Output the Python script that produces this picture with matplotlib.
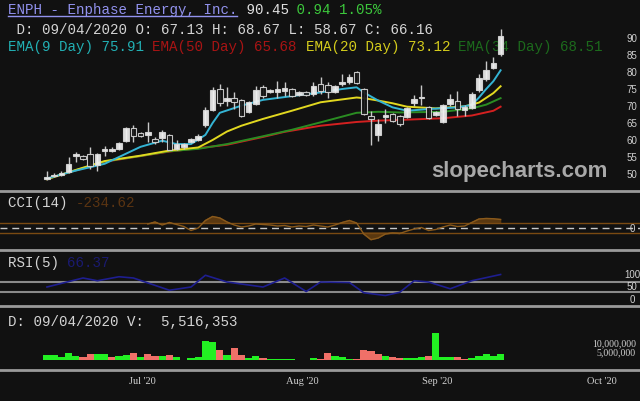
import matplotlib.pyplot as plt
from matplotlib.patches import Rectangle
from matplotlib.lines import Line2D
from matplotlib.transforms import blended_transform_factory
import numpy as np

# ---- values (one entry per trading day) ----
opens = [48.6, 49.3, 49.7, 50.7, 55.4, 55.2, 55.9, 52.6, 56.9, 56.8,
         57.5, 59.8, 63.4, 62.0, 61.5, 60.3, 60.6, 61.5, 57.5, 57.8,
         59.3, 60.1, 64.4, 68.9, 75.0, 71.6, 72.3, 71.9, 68.3, 70.6,
         75.5, 74.0, 74.0, 74.5, 75.0, 73.2, 74.0, 73.5, 76.5, 76.2,
         74.0, 76.5, 77.2, 79.9, 75.0, 67.13, 61.5, 66.7, 67.7, 67.2,
         66.7, 70.9, 72.3, 69.6, 67.4, 65.2, 70.6, 71.6, 68.9, 69.3,
         74.8, 78.0, 81.1, 85.3]
closes = [49.2, 49.8, 50.3, 52.9, 55.9, 54.4, 52.5, 55.9, 57.5, 57.4,
          59.1, 63.4, 61.3, 61.3, 62.5, 59.3, 62.4, 57.2, 58.8, 58.8,
          60.3, 61.1, 68.9, 74.8, 71.0, 72.5, 71.1, 67.2, 71.1, 74.8,
          73.0, 74.8, 75.0, 75.2, 73.0, 74.0, 73.2, 75.8, 74.5, 74.0,
          76.0, 77.2, 78.4, 76.8, 67.6, 66.16, 64.7, 67.3, 65.7, 64.7,
          69.3, 72.1, 72.5, 66.5, 68.1, 70.3, 72.1, 69.1, 69.6, 73.5,
          78.2, 80.7, 82.6, 90.45]
highs = [50.9, 50.2, 50.8, 54.9, 56.4, 55.6, 57.8, 56.2, 58.3, 57.8,
         59.4, 63.8, 64.4, 62.3, 65.2, 60.8, 62.8, 61.8, 60.0, 59.2,
         60.6, 61.8, 69.6, 75.5, 76.5, 75.5, 74.0, 72.2, 71.4, 76.0,
         76.2, 75.1, 77.4, 77.0, 75.3, 74.3, 74.3, 77.0, 78.4, 77.0,
         76.3, 79.4, 79.4, 80.2, 75.3, 68.67, 66.2, 69.0, 68.0, 67.5,
         69.6, 73.1, 76.2, 69.9, 68.4, 70.6, 73.5, 74.5, 70.3, 74.0,
         79.4, 83.1, 84.5, 92.6]
lows = [48.1, 49.0, 49.4, 50.4, 53.5, 54.0, 51.5, 51.0, 55.4, 56.5,
        57.2, 59.5, 59.3, 61.0, 59.3, 58.9, 59.5, 57.0, 57.2, 57.5,
        59.0, 59.8, 63.7, 68.5, 70.1, 70.1, 69.1, 66.9, 68.0, 70.3,
        72.5, 73.7, 72.5, 73.0, 72.7, 73.0, 72.9, 72.8, 73.5, 72.3,
        73.7, 76.0, 76.5, 76.5, 67.3, 58.67, 59.8, 65.0, 65.4, 64.0,
        66.4, 69.9, 70.3, 66.2, 67.1, 65.0, 69.9, 67.1, 67.2, 69.0,
        74.0, 77.5, 80.9, 84.8]

# volume in millions, and whether the bar is green (1) or red (0)
volumes = [3.2, 3.0, 2.0, 4.0, 2.4, 1.6, 3.6, 3.6, 3.6, 2.0,
           2.4, 3.0, 4.0, 2.0, 3.6, 2.6, 2.6, 3.0, 2.0, 0.2,
           1.0, 2.0, 11.0, 10.4, 6.0, 3.0, 7.0, 3.0, 1.4, 2.4,
           1.0, 0.6, 0.6, 0.4, 0.4, 0.2, 0.1, 1.0, 0.4, 4.0,
           2.4, 1.6, 0.8, 0.6, 6.0, 5.5, 3.6, 2.4, 1.6, 1.0,
           1.0, 1.0, 1.6, 2.4, 16.0, 2.0, 2.0, 1.6, 0.4, 1.2,
           2.4, 3.6, 2.6, 3.4]
vol_up = [1, 1, 1, 1, 1, 0, 0, 1, 1, 0,
          1, 1, 0, 1, 0, 0, 1, 0, 1, 1,
          1, 1, 1, 1, 0, 1, 0, 0, 1, 1,
          0, 1, 1, 1, 1, 1, 1, 1, 0, 0,
          1, 1, 1, 0, 0, 0, 0, 1, 0, 0,
          1, 1, 1, 0, 1, 1, 1, 0, 0, 1,
          1, 1, 1, 1]

# moving averages sampled along the lines
ema9_x = [0, 4, 8, 11, 13, 16, 18, 20, 22, 23, 24, 27, 30, 34, 38, 41, 43, 44,
          46, 48, 50, 53, 57, 59, 60, 61, 62, 63]
ema9 = [48.7, 51.0, 53.0, 56.0, 58.0, 59.8, 58.8, 58.8, 61.5, 65.0, 68.0, 70.1,
        71.8, 72.9, 74.0, 75.0, 75.5, 74.0, 71.6, 69.6, 68.6, 69.1, 69.6, 70.3,
        72.5, 75.0, 77.3, 80.5]
ema20_x = [0, 4, 8, 13, 17, 21, 23, 25, 27, 30, 34, 38, 43, 44, 46, 48, 50, 54,
           58, 60, 62, 63]
ema20 = [48.5, 51.2, 53.8, 55.4, 56.9, 57.8, 60.0, 62.5, 64.2, 66.2, 68.6, 71.1,
         72.5, 72.3, 71.6, 70.8, 69.8, 69.3, 69.9, 71.0, 73.8, 75.8]
ema34_x = [0, 4, 8, 13, 17, 21, 25, 30, 34, 38, 43, 46, 49, 55, 59, 61, 63]
ema34 = [48.5, 51.1, 53.7, 55.3, 56.7, 57.4, 58.8, 61.1, 63.0, 65.2, 68.0, 68.3,
         68.1, 68.3, 69.3, 70.4, 72.3]
ema50_x = [0, 8, 17, 25, 30, 33, 38, 43, 46, 49, 55, 59, 62, 63]
ema50 = [48.5, 53.6, 56.6, 58.6, 60.9, 62.4, 64.2, 65.3, 65.7, 65.9, 66.4, 67.2,
         68.6, 69.8]

cci_x = list(range(14, 64))
cci = [80, 120, 60, 110, 70, 30, -50, 0, 150, 230, 200, 120, 60, 20, 40, 80,
       70, 60, 40, 50, 20, 40, 30, 60, 40, 20, 60, 110, 150, 100, -120, -234,
       -200, -120, -100, -110, -60, -20, 10, -50, -30, 20, 60, 30, 40, 110, 180,
       190, 185, 170]

rsi_x = [0, 5, 7, 10, 12, 17, 20, 22, 25, 30, 33, 36, 38, 42, 44, 47, 49, 51,
         53, 56, 59, 63]
rsi = [48, 84, 73, 89, 84, 35, 48, 95, 68, 48, 84, 30, 68, 66, 25, 14, 27, 73,
       68, 41, 73, 98]

price_ticks = [50, 55, 60, 65, 70, 75, 80, 85, 90]
vol_ticks = [5, 10]
vol_tick_labels = ['5,000,000', '10,000,000']
month_labels = ["Jul '20", "Aug '20", "Sep '20", "Oct '20"]
month_pos = [13.3, 35.4, 54.2, 77.1]

# ---- layout (pixels of the 640x402 picture) ----
W, H = 640, 402
BG = '#111111'
x0, step = 47, 7.2          # pixel of first candle, pixels per candle
xlim = (-x0 / step, (W - x0) / step)
CW = 8.5                    # width of one monospace character in pixels

fig = plt.figure(figsize=(W / 100, H / 100), dpi=100, facecolor=BG)


def px_axes(top, bottom):
    ax = fig.add_axes([0, 1 - bottom / H, 1, (bottom - top) / H])
    ax.set_facecolor('none')
    ax.set_xlim(*xlim)
    ax.axis('off')
    return ax


def ftext(ax, x, y, s, color, size=10.2, family='Liberation Mono', **kw):
    ax.text(x / W, 1 - y / H, s, color=color, fontsize=size, family=family,
            transform=fig.transFigure, va='center', ha=kw.pop('ha', 'left'),
            **kw)


def segments(ax, x, y, parts):
    for s, c in parts:
        ftext(ax, x, y, s, c, zorder=1)
        x += len(s) * CW


def right_labels(ax, ticks, labels, size=7, family='Liberation Sans',
                 x=632, ha='center'):
    trans = blended_transform_factory(fig.transFigure, ax.transData)
    for v, lab in zip(ticks, labels):
        ax.text(x / W, v, lab, color='#d0d0d0', fontsize=size, ha=ha,
                va='center', family=family, transform=trans)


# main price panel
ax = px_axes(0, 191)
ax.set_ylim(90 - (191 - 39) / 3.4, 90 + 39 / 3.4)

segments(ax, 8, 10, [('ENPH - Enphase Energy, Inc.', '#9292ee'),
                     (' 90.45', '#e0e0e0'), (' 0.94 1.05%', '#3cc83c')])
fig.add_artist(Line2D([8 / W, 237 / W], [1 - 17 / H, 1 - 17 / H],
                      color='#9292ee', lw=1))
segments(ax, 8, 30, [(' D: 09/04/2020 O: 67.13 H: 68.67 L: 58.67 C: 66.16',
                      '#d4d4d4')])
segments(ax, 8, 47, [('EMA(9 Day) 75.91 ', '#22b0b4'),
                     ('EMA(50 Day) 65.68 ', '#a81414'),
                     ('EMA(20 Day) 73.12 ', '#d4cc1c'),
                     ('EMA(34 Day) 68.51', '#1c6a1c')])

ax.plot(ema50_x, ema50, color='#d42020', lw=1.4, zorder=2)
ax.plot(ema34_x, ema34, color='#2a8c22', lw=1.4, zorder=2)
ax.plot(ema20_x, ema20, color='#e2d820', lw=1.4, zorder=2)
ax.plot(ema9_x, ema9, color='#34b4d4', lw=1.4, zorder=2)

for i in range(len(opens)):
    o, c = opens[i], closes[i]
    ax.vlines(i, lows[i], highs[i], color='#c8c8c8', lw=1, zorder=3)
    lo, hi = min(o, c), max(o, c)
    hi = max(hi, lo + 0.3)
    face = '#f2f2f2' if c >= o else '#111111'
    ax.add_patch(Rectangle((i - 0.4, lo), 0.8, hi - lo, facecolor=face,
                           edgecolor='#d8d8d8', lw=0.8, alpha=0.9, zorder=4))

right_labels(ax, price_ticks, [str(p) for p in price_ticks])

ax.text(519 / W, 1 - 172 / H, 'slopecharts.com', transform=fig.transFigure,
        color='#a8a8a8', fontsize=16, fontweight='bold', ha='center',
        va='center', family='Liberation Sans', zorder=5)

# CCI panel
ax_cci = px_axes(193, 250)
ax_cci.set_ylim(-(250 - 229) / 0.05, (229 - 193) / 0.05)
ax_cci.axhline(100, color='#7a4a12', lw=1)
ax_cci.axhline(-100, color='#7a4a12', lw=1)
ax_cci.axhline(0, color='#c8c8c8', lw=1, ls=(0, (5, 3.5)))
cci_a = np.array(cci)
ax_cci.fill_between(cci_x, 100, cci_a, where=cci_a > 100, color='#5a3810',
                    interpolate=True)
ax_cci.fill_between(cci_x, -100, cci_a, where=cci_a < -100, color='#5a3810',
                    interpolate=True)
ax_cci.plot(cci_x, cci, color='#8a5a1c', lw=1)
segments(ax_cci, 8, 203, [('CCI(14) ', '#d4d4d4'), ('-234.62', '#5a3412')])
right_labels(ax_cci, [0], ['0'])

# RSI panel
ax_rsi = px_axes(252, 306)
ax_rsi.set_ylim(-(306 - 300) / 0.25, 100 + (275 - 252) / 0.25)
ax_rsi.axhline(70, color='#8a8a8a', lw=1.5)
ax_rsi.axhline(30, color='#8a8a8a', lw=1.5)
ax_rsi.plot(rsi_x, rsi, color='#1e1e90', lw=1.2)
segments(ax_rsi, 8, 263, [('RSI(5) ', '#d4d4d4'), ('66.37', '#1a1a70')])
right_labels(ax_rsi, [100, 50, 0], ['100', '50', '0'])

# volume panel
ax_vol = px_axes(308, 370)
ax_vol.set_ylim(-(370 - 361) / 1.7, (361 - 308) / 1.7)
vcol = ['#22f022' if u else '#f07068' for u in vol_up]
ax_vol.bar(range(len(volumes)), volumes, width=1.0, color=vcol)
segments(ax_vol, 8, 322, [('D: 09/04/2020 V:  5,516,353', '#d4d4d4')])
right_labels(ax_vol, vol_ticks, vol_tick_labels, size=7,
             family='Liberation Serif', x=636, ha='right')

# month labels
ax_x = px_axes(372, 402)
ax_x.set_ylim(0, 1)
for lab, pos in zip(month_labels, month_pos):
    ax_x.text(pos, 0.67, lab, color='#d0d0d0', fontsize=7.5, ha='center',
              va='center', family='Liberation Serif')

# panel separators
for y in [192, 251, 307, 371]:
    fig.add_artist(Line2D([0, 1], [1 - y / H, 1 - y / H], color='#9a9a9a',
                          lw=2))

fig.savefig('out.png', dpi=100, facecolor=BG)
